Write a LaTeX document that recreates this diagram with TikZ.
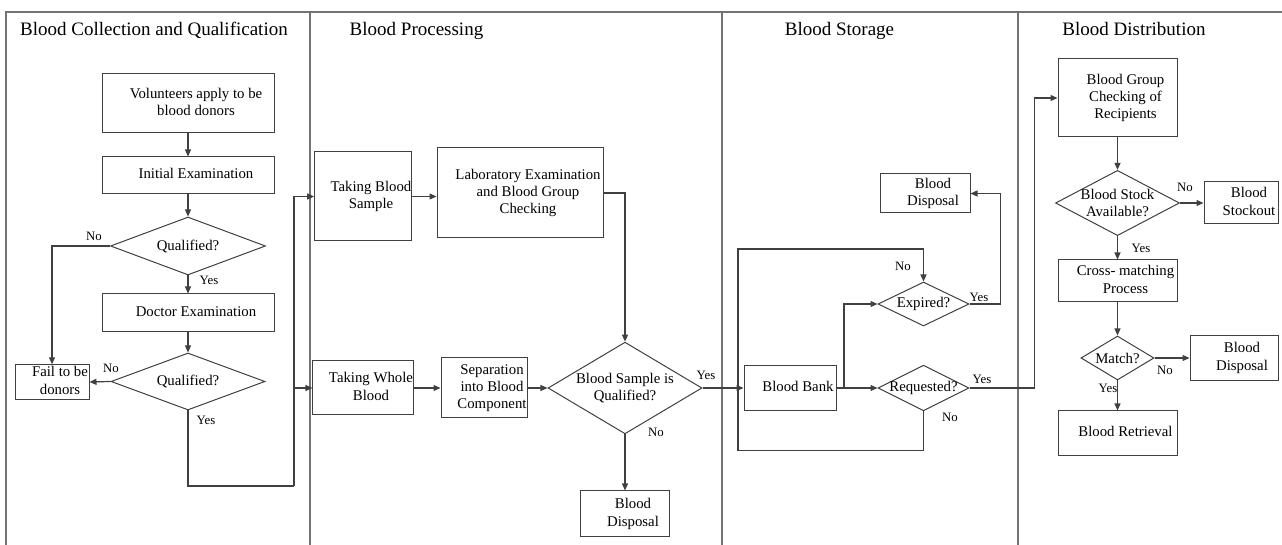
\documentclass[tikz,border=0pt]{standalone}
\usepackage{fontspec}
\setmainfont{Liberation Serif}
\usetikzlibrary{shapes.geometric,arrows.meta}
\newcommand{\boxtext}[1]{\hspace*{8pt}\begin{tabular}{@{}c@{}}#1\end{tabular}}
\tikzset{
  box/.style={draw=black!75, rectangle, inner sep=0pt, font=\fontsize{7.4}{8.6}\selectfont},
  dec/.style={draw=black!75, diamond, inner xsep=-6pt, inner ysep=-3pt, align=center,
    font=\fontsize{7.4}{8.6}\selectfont},
  wh/.style 2 args={minimum width=#1*0.5pt, minimum height=#2*0.5pt},
  flow/.style={draw=black!75, line width=0.6pt, -{Triangle[length=3.5pt,width=3pt]}},
  yn/.style={font=\fontsize{6.4}{7}\selectfont, inner sep=0pt},
  lane/.style={font=\fontsize{9.5}{11}\selectfont, inner sep=0pt, anchor=base}
}
\begin{document}
\begin{tikzpicture}[x=0.5pt, y=-0.5pt, line width=0.5pt]
	\useasboundingbox (0,0) rectangle (1282,545);
	% lanes
	\draw[black!55, line width=0.6pt] (6,545) -- (6,12) -- (1282,12);
	\foreach \x in {310,722,1018} \draw[black!55, line width=0.6pt] (\x,12) -- (\x,545);
	\node[lane] (h1) at (154,35.5) {Blood Collection and Qualification};
	\node[lane] (h2) at (416.5,35.5) {Blood Processing};
	\node[lane] (h3) at (839.5,35.5) {Blood Storage};
	\node[lane] (h4) at (1134,35.5) {Blood Distribution};
	% collection and qualification
	\node[box, wh={172}{59}] (vol) at (188,103.5) {\boxtext{Volunteers apply to be\\blood donors}};
	\node[box, wh={172}{37}] (ini) at (188,175.5) {\boxtext{Initial Examination}};
	\node[dec, wh={155}{58}] (q1) at (188,246) {Qualified?};
	\node[box, wh={172}{38}] (doc) at (188,313) {\boxtext{Doctor Examination}};
	\node[dec, wh={154}{57}] (q2) at (188,381.5) {Qualified?};
	\node[box, wh={74}{30}] (fail) at (52,382) {\boxtext{Fail to be\\donors}};
	\draw[flow] (vol) -- (ini);
	\draw[flow] (ini) -- (q1);
	\draw[flow] (q1) -- (doc);
	\draw[flow] (doc) -- (q2);
	\draw[flow] (q1.west) -| (fail.north);
	\draw[flow] (q2.west) -- (fail.east);
	\node[yn] (n1) at (94,236) {No};
	\node[yn] (y1) at (209,280) {Yes};
	\node[yn] (n2) at (111,368) {No};
	\node[yn] (y2) at (206,420) {Yes};
	% processing
	\node[box, wh={90}{89}] (tbs) at (363,196.5) {\boxtext{Taking Blood\\Sample}};
	\node[box, wh={166}{90}] (lab) at (520,193) {\boxtext{Laboratory Examination\\and Blood Group\\Checking}};
	\node[box, wh={90}{54}] (twb) at (363,388) {\boxtext{Taking Whole\\Blood}};
	\node[box, wh={86}{60}] (sep) at (484,388) {\boxtext{Separation\\into Blood\\Component}};
	\node[dec, wh={154}{76}] (q3) at (625,388) {Blood Sample is\\Qualified?};
	\node[box, wh={89}{46}] (disp1) at (625,514) {\boxtext{Blood\\Disposal}};
	\coordinate (j1) at (294,486);
	\draw[black!75, line width=0.6pt] (q2.south) |- (j1);
	\draw[flow] (j1) |- (tbs.west);
	\draw[flow] (j1) |- (twb.west);
	\draw[flow] (tbs.east) -- (tbs.east -| lab.west);
	\draw[flow] (lab.east) -| (q3.north);
	\draw[flow] (twb) -- (sep);
	\draw[flow] (sep) -- (q3);
	\draw[flow] (q3) -- (disp1);
	\node[yn] (y3) at (706,375) {Yes};
	\node[yn] (n3) at (656,432) {No};
	% storage
	\node[box, wh={90}{39}] (disp2) at (925,193.5) {\boxtext{Blood\\Disposal}};
	\node[dec, wh={91}{44}] (exp) at (923.5,304) {Expired?};
	\node[dec, wh={91}{44}] (req) at (923.5,388) {Requested?};
	\node[box, wh={92}{45}] (bank) at (790,388) {\boxtext{Blood Bank}};
	\coordinate (j2) at (844,388);
	\draw[flow] (q3) -- (bank);
	\draw[flow] (bank) -- (req);
	\draw[flow] (j2) |- (exp.west);
	\draw[flow] (exp.east) -| ([xshift=15pt]disp2.east) -- (disp2.east);
	\draw[flow] (req.south) -- ++(0,39) -| (738,249) -| (exp.north);
	\node[yn] (n4) at (903,266) {No};
	\node[yn] (y4) at (979,297) {Yes};
	\node[yn] (y5) at (982,379) {Yes};
	\node[yn] (n5) at (950,417) {No};
	% distribution
	\node[box, wh={119}{78}] (bgc) at (1117.5,98) {\boxtext{Blood Group\\Checking of\\Recipients}};
	\node[dec, wh={124}{59}] (stock) at (1117.5,203) {Blood Stock\\Available?};
	\node[box, wh={74}{42}] (out) at (1241,203) {\boxtext{Blood\\Stockout}};
	\node[box, wh={119}{42}] (cross) at (1117.5,281) {\boxtext{Cross- matching\\Process}};
	\node[dec, wh={73}{44}] (match) at (1117.5,358) {Match?};
	\node[box, wh={88}{45}] (disp3) at (1234,358) {\boxtext{Blood\\Disposal}};
	\node[box, wh={119}{45}] (ret) at (1117.5,433.5) {\boxtext{Blood Retrieval}};
	\draw[flow] (req.east) -| ([xshift=-11.5pt]bgc.west) -- (bgc.west);
	\draw[flow] (bgc) -- (stock);
	\draw[flow] (stock) -- (out);
	\draw[flow] (stock) -- (cross);
	\draw[flow] (cross) -- (match);
	\draw[flow] (match) -- (disp3);
	\draw[flow] (match) -- (ret);
	\node[yn] (n6) at (1185,187) {No};
	\node[yn] (y6) at (1141,248) {Yes};
	\node[yn] (n7) at (1165,370) {No};
	\node[yn] (y7) at (1108,388) {Yes};
\end{tikzpicture}
\end{document}
